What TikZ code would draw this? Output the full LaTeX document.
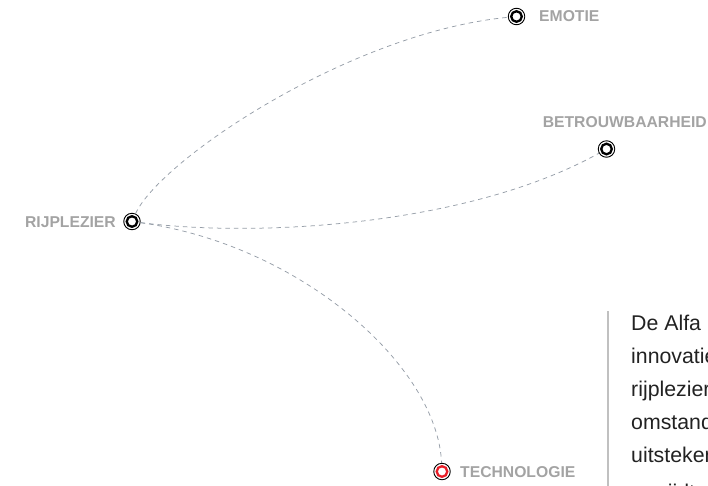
\documentclass[tikz,border=0pt]{standalone}
\usepackage{fontspec}
\setmainfont{Liberation Sans}
\definecolor{lblgray}{RGB}{163,163,163}
\definecolor{dashgray}{RGB}{150,158,168}
\definecolor{ringred}{RGB}{232,30,40}
\definecolor{bargray}{RGB}{192,192,192}
\definecolor{bodytext}{RGB}{34,34,34}
\tikzset{
  marker/.style={circle, draw=black, line width=0.9pt, fill=white, minimum size=16.5pt, inner sep=0pt,
    path picture={\draw[line width=2.3pt, draw=#1] (path picture bounding box.center) circle (5.3pt);}},
  marker/.default=black,
  lbl/.style={font=\fontsize{15.7}{16}\selectfont\bfseries, text=lblgray, inner sep=0pt},
  link/.style={draw=dashgray, line width=0.75pt, dash pattern=on 4.5pt off 4pt},
  bodyline/.style={font=\fontsize{21.3}{24}\selectfont, text=bodytext, inner sep=0pt, anchor=base west},
}
\begin{document}
\begin{tikzpicture}[x=1pt,y=-1pt]
\useasboundingbox (0,0) rectangle (708,485);
\clip (0,0) rectangle (708,485);
% markers
\node[marker] (rij) at (132,221.5) {};
\node[marker] (emo) at (516.5,16.5) {};
\node[marker] (bet) at (606.5,149) {};
\node[marker=ringred] (tec) at (442,471.5) {};
% connectors
\draw[link] (rij) .. controls +(28,-61.5) and +(-166.5,16) .. (emo);
\draw[link] (rij) .. controls +(128,16.5) and +(-136.5,76) .. (bet);
\draw[link] (rij) .. controls +(168,23.5) and +(-5,-106.5) .. (tec);
% labels
\node[lbl, anchor=west] (emoL) at (539,16.5) {EMOTIE};
\node[lbl, anchor=east] (betL) at (707,122) {BETROUWBAARHEID};
\node[lbl, anchor=east] (rijL) at (116,222) {RIJPLEZIER};
\node[lbl, anchor=west] (tecL) at (460,472) {TECHNOLOGIE};
% text block
\coordinate (barTop) at (608,311);
\coordinate (barBot) at (608,490);
\draw[bargray, line width=2pt] (barTop) -- (barBot);
\node[bodyline] (t1) at (631,330) {De Alfa Romeo};
\node[bodyline] (t2) at (631,363) {innovatie};
\node[bodyline] (t3) at (631,396) {rijplezier};
\node[bodyline] (t4) at (631,429) {omstandigheden};
\node[bodyline] (t5) at (631,462) {uitstekend};
\node[bodyline] (t6) at (631,499) {en rijdt};
\end{tikzpicture}
\end{document}
